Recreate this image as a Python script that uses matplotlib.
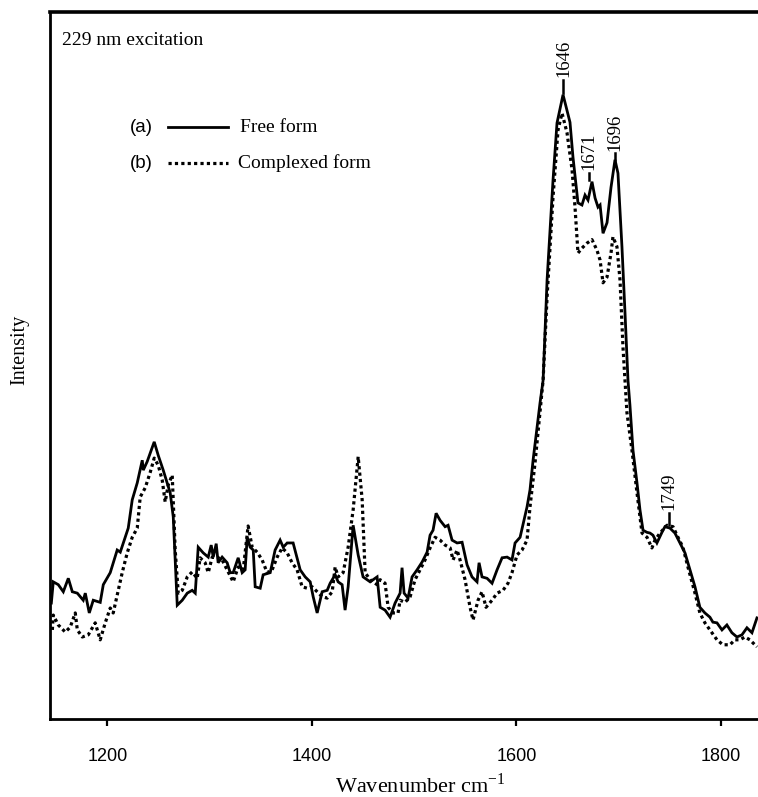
import matplotlib
matplotlib.use("Agg")
import matplotlib.pyplot as plt
import numpy as np

# Solid curve (a) free form: wavenumber, intensity (arbitrary units)
wn_free = [1145.3, 1147.2, 1152.1, 1157.0, 1161.9, 1165.8, 1170.7, 1176.5, 1178.5, 1182.4,
           1186.3, 1193.1, 1196.1, 1202.9, 1209.7, 1212.7, 1220.5, 1224.4, 1229.3, 1234.2,
           1235.2, 1239.0, 1245.9, 1249.8, 1254.7, 1261.5, 1264.5, 1268.4, 1273.3, 1278.2,
           1283.0, 1286.0, 1288.9, 1293.8, 1298.7, 1301.6, 1303.6, 1306.5, 1308.4, 1312.3,
           1317.2, 1320.2, 1323.1, 1328.0, 1331.9, 1334.8, 1336.8, 1339.7, 1342.7, 1344.6,
           1349.5, 1352.4, 1359.3, 1364.1, 1369.0, 1372.0, 1375.9, 1381.7, 1388.6, 1393.5,
           1398.4, 1401.3, 1405.2, 1410.1, 1415.0, 1417.9, 1422.8, 1425.7, 1429.6, 1432.5,
           1435.5, 1440.4, 1445.3, 1450.1, 1457.0, 1463.8, 1466.8, 1471.6, 1476.5, 1481.4,
           1486.3, 1488.2, 1490.2, 1494.1, 1498.0, 1502.9, 1507.8, 1512.7, 1515.6, 1518.5,
           1521.5, 1525.4, 1530.3, 1533.2, 1537.1, 1542.0, 1546.9, 1551.8, 1556.6, 1561.5,
           1563.5, 1566.4, 1571.3, 1576.2, 1581.1, 1586.0, 1590.9, 1595.7, 1598.7, 1603.6,
           1610.4, 1613.3, 1616.3, 1620.2, 1623.1, 1626.1, 1630.0, 1635.8, 1639.7, 1645.6,
           1652.4, 1655.3, 1660.2, 1664.1, 1667.1, 1670.0, 1673.9, 1676.9, 1679.8, 1681.8,
           1684.7, 1688.6, 1692.5, 1696.4, 1699.3, 1703.2, 1706.2, 1709.1, 1711.0, 1714.0,
           1717.9, 1720.8, 1723.8, 1727.7, 1730.6, 1733.5, 1737.4, 1742.3, 1745.2, 1750.1,
           1755.0, 1759.9, 1764.8, 1769.7, 1774.6, 1779.4, 1784.3, 1789.2, 1792.1, 1796.1,
           1801.0, 1805.8, 1810.7, 1815.6, 1820.5, 1825.4, 1830.3, 1835.2]
int_free = [16.4, 19.4, 19.0, 18.0, 19.9, 18.0, 17.8, 16.8, 17.8, 15.0,
            16.8, 16.5, 19.0, 20.7, 23.9, 23.6, 27.0, 31.0, 33.4, 36.6,
            35.2, 36.4, 39.2, 37.3, 35.2, 32.0, 28.6, 16.1, 16.8, 17.8,
            18.2, 17.8, 24.3, 23.5, 22.9, 24.6, 22.9, 24.8, 22.1, 22.9,
            22.1, 20.7, 20.7, 22.8, 20.7, 21.1, 25.7, 24.3, 23.9, 18.7,
            18.5, 20.4, 20.7, 23.9, 25.3, 24.3, 24.9, 24.9, 21.1, 20.1,
            19.4, 17.3, 15.0, 18.0, 18.2, 19.2, 20.4, 19.4, 19.0, 15.4,
            18.7, 27.4, 23.2, 20.1, 19.4, 20.1, 15.8, 15.4, 14.4, 16.4,
            17.8, 21.4, 17.8, 17.1, 20.1, 21.1, 22.2, 23.6, 26.0, 26.7,
            29.1, 28.1, 27.2, 27.4, 25.3, 24.9, 25.0, 21.8, 20.1, 19.4,
            22.1, 20.1, 19.9, 19.2, 21.1, 22.8, 22.9, 22.5, 24.9, 25.7,
            30.0, 32.4, 36.6, 41.3, 44.7, 47.9, 62.1, 76.2, 84.3, 88.3,
            84.4, 79.5, 73.0, 72.7, 74.1, 73.4, 76.0, 73.7, 72.4, 72.7,
            68.7, 70.2, 75.2, 79.1, 77.2, 66.8, 57.4, 47.9, 44.4, 38.0,
            33.4, 29.6, 26.7, 26.4, 26.3, 26.0, 24.9, 26.4, 27.2, 27.0,
            26.3, 24.9, 23.5, 21.1, 18.7, 15.8, 15.0, 14.4, 13.7, 13.6,
            12.6, 13.3, 12.2, 11.6, 11.9, 12.9, 12.2, 14.3]

# Dotted curve (b) complexed form
wn_cplx = [1146.3, 1147.2, 1152.1, 1158.9, 1163.8, 1168.7, 1170.7, 1175.6, 1181.4, 1188.2,
           1193.1, 1198.0, 1202.9, 1205.8, 1209.7, 1214.6, 1219.5, 1224.4, 1229.3, 1232.2,
           1237.1, 1242.0, 1245.9, 1249.8, 1253.7, 1256.6, 1259.6, 1263.5, 1266.4, 1269.4,
           1273.3, 1278.2, 1283.0, 1287.9, 1290.8, 1295.7, 1298.7, 1302.6, 1307.5, 1312.3,
           1317.2, 1323.1, 1328.0, 1332.9, 1337.7, 1341.7, 1346.5, 1351.4, 1356.3, 1361.2,
           1366.1, 1371.0, 1375.9, 1380.7, 1385.6, 1390.5, 1395.4, 1400.3, 1405.2, 1410.1,
           1415.0, 1419.9, 1422.8, 1425.7, 1430.6, 1435.5, 1440.4, 1445.3, 1449.2, 1452.1,
           1457.0, 1463.8, 1466.8, 1471.6, 1474.6, 1479.4, 1484.3, 1486.3, 1491.2, 1496.1,
           1500.9, 1505.8, 1510.7, 1515.6, 1520.5, 1525.4, 1530.3, 1535.2, 1538.1, 1542.0,
           1544.9, 1549.8, 1554.7, 1557.6, 1562.5, 1566.4, 1570.3, 1576.2, 1581.1, 1586.9,
           1591.8, 1595.7, 1600.6, 1605.5, 1610.4, 1613.3, 1618.2, 1622.1, 1626.1, 1630.0,
           1635.8, 1640.7, 1644.6, 1649.5, 1654.4, 1657.3, 1660.2, 1664.1, 1669.0, 1673.9,
           1678.8, 1681.8, 1684.7, 1688.6, 1692.5, 1694.4, 1698.3, 1701.3, 1704.2, 1708.1,
           1713.0, 1717.9, 1722.8, 1727.7, 1732.5, 1735.5, 1740.4, 1747.2, 1753.1, 1758.0,
           1762.8, 1767.7, 1774.6, 1779.4, 1784.3, 1789.2, 1796.1, 1801.9, 1808.8, 1813.6,
           1818.5, 1823.4, 1828.3, 1835.2]
int_cplx = [12.6, 14.7, 13.3, 12.3, 13.0, 15.0, 12.6, 11.6, 11.9, 13.6,
            11.2, 13.6, 15.7, 15.0, 17.5, 20.7, 23.5, 25.7, 27.0, 31.4,
            32.7, 34.9, 36.9, 35.9, 33.8, 30.7, 33.1, 34.5, 23.9, 17.8,
            18.2, 20.1, 20.8, 19.9, 22.8, 22.1, 20.7, 22.9, 22.9, 22.5,
            21.1, 19.4, 21.5, 21.1, 27.3, 24.3, 23.6, 22.5, 20.7, 21.1,
            22.9, 24.2, 23.5, 22.1, 21.1, 18.7, 18.5, 18.7, 18.0, 17.3,
            17.1, 18.0, 21.5, 20.1, 20.7, 24.3, 29.6, 37.1, 31.0, 20.7,
            19.7, 19.0, 19.7, 19.2, 15.8, 15.0, 15.0, 16.8, 16.5, 17.3,
            19.7, 21.1, 22.5, 24.2, 25.7, 25.3, 24.6, 24.2, 22.5, 23.9,
            22.5, 19.7, 15.8, 14.0, 16.8, 18.0, 15.8, 16.8, 17.8, 18.2,
            19.2, 20.7, 23.2, 23.9, 25.3, 30.0, 36.2, 41.9, 47.9, 59.7,
            73.8, 83.3, 85.7, 82.9, 77.7, 72.4, 65.9, 66.6, 67.3, 67.8,
            66.3, 64.9, 61.7, 62.5, 65.9, 68.2, 66.8, 62.1, 52.6, 43.3,
            38.0, 32.0, 26.3, 25.7, 24.2, 25.3, 26.3, 27.4, 27.2, 25.7,
            24.3, 21.5, 17.8, 15.0, 13.6, 12.6, 11.2, 10.5, 10.5, 11.2,
            11.2, 11.6, 11.2, 10.2]

# Peak labels
peak_wn = [1646, 1671, 1696, 1749]
peak_tick_lo = [88.5, 76.2, 79.1, 27.4]
peak_tick_hi = [90.4, 77.2, 80.0, 29.1]

serif = ['Liberation Serif', 'DejaVu Serif']
sans = ['Liberation Sans', 'DejaVu Sans']

fig = plt.figure(figsize=(7.58, 7.97), dpi=100, facecolor='white')
# axes runs past the right edge of the figure (cropped original)
ax = fig.add_axes([50 / 758, 78 / 797, 740 / 758, 707 / 797])

ax.plot(wn_free, int_free, color='black', linewidth=2.0, solid_joinstyle='miter')
ax.plot(wn_cplx, int_cplx, color='black', linewidth=2.3, linestyle=(0, (1, 1)))

for w, lo, hi in zip(peak_wn, peak_tick_lo, peak_tick_hi):
    ax.plot([w, w], [lo, hi], color='black', linewidth=1.8)
    ax.text(w, hi + 0.4, str(w), rotation=90, ha='center', va='bottom',
            fontsize=13.5, family=serif)

ax.set_xlim(1144, 1867.5)
ax.set_ylim(0, 100)

ax.set_xticks([1200, 1400, 1600, 1800])
ax.set_yticks([])
ax.tick_params(axis='x', direction='out', length=5, width=1.6, pad=16, labelsize=13)
for lab in ax.get_xticklabels():
    lab.set_family(sans)
for s in ax.spines.values():
    s.set_linewidth(2)
ax.spines['top'].set_linewidth(2.6)

ax.set_xlabel(r'Wavenumber cm$^{\mathregular{-1}}$', fontsize=16, family=serif, labelpad=6)
ax.set_ylabel('Intensity', fontsize=14.5, family=serif)
ax.yaxis.set_label_coords(-0.028, 0.522)

ax.text(0.016, 0.96, '229 nm excitation', transform=ax.transAxes, fontsize=14,
        family=serif, va='center', ha='left')

# hand-made legend
ax.text(0.108, 0.837, '(a)', transform=ax.transAxes, fontsize=13.5, family=sans, va='center')
ax.plot([0.159, 0.241], [0.837, 0.837], transform=ax.transAxes, color='black', linewidth=2.0)
ax.text(0.257, 0.837, 'Free form', transform=ax.transAxes, fontsize=14, family=serif, va='center')
ax.text(0.108, 0.786, '(b)', transform=ax.transAxes, fontsize=13.5, family=sans, va='center')
ax.plot([0.159, 0.241], [0.786, 0.786], transform=ax.transAxes, color='black',
        linewidth=2.3, linestyle=(0, (1, 1)))
ax.text(0.254, 0.786, 'Complexed form', transform=ax.transAxes, fontsize=14, family=serif, va='center')

fig.savefig('out.png', dpi=100, facecolor='white')
